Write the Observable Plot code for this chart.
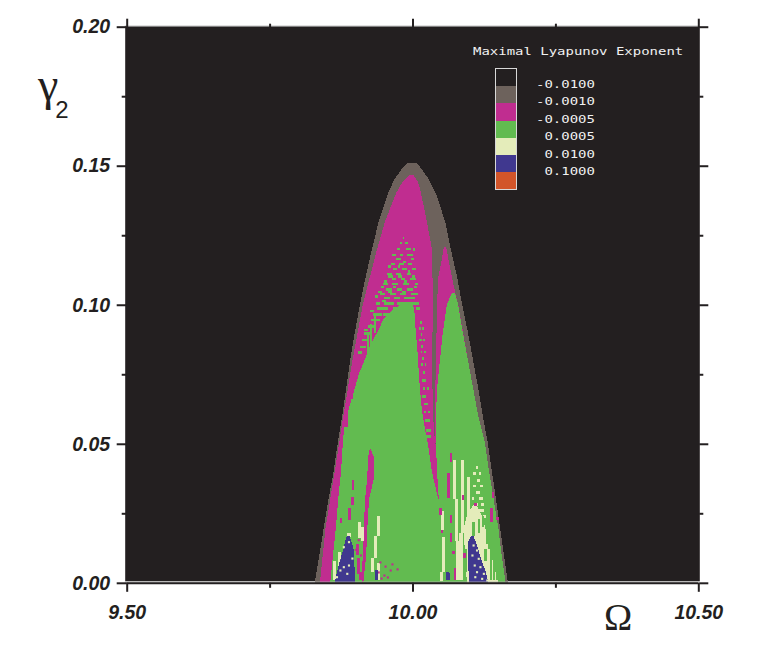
<!DOCTYPE html>
<html>
<head>
<meta charset="utf-8">
<script src="https://cdn.jsdelivr.net/npm/d3@7"></script>
<script src="https://cdn.jsdelivr.net/npm/@observablehq/plot@0.6"></script>
<style>
html,body{margin:0;padding:0;background:#fff;width:763px;height:654px;overflow:hidden}
#wrap{position:relative;width:763px;height:654px}
svg{display:block}
.abs{position:absolute;white-space:pre;line-height:1}
.px{font-family:"DejaVu Sans Mono",monospace;font-size:10.5px;color:#f1f1f1;transform:scaleX(1.33);transform-origin:left center}
</style>
</head>
<body>
<div id="wrap"></div>
<script>
// ---- colours / legend ----
const legendTitle = "Maximal Lyapunov Exponent";
const legendLabels = ["-0.0100","-0.0010","-0.0005"," 0.0005"," 0.0100"," 0.1000"];
const legendColors = ["#231f20","#6d625c","#c02d90","#62bb50","#e4ecba","#40388f","#d2552a"];
const [cBack,cGrey,cMag,cGreen,cPale,cBlue] = legendColors;

// ---- axis ticks ----
const xMajor = [9.5,10,10.5], xMinor = [9.75,10.25];
const yMajor = [0,0.05,0.10,0.15,0.20], yMinor = [0.025,0.075,0.125,0.175];

// ---- outer dome (grey) ----
const domeY = [0,.01,.02,.03,.04,.05,.06,.07,.08,.09,.10,.11,.12,.13,.14,.145,.149,.151];
const domeL = [9.829,9.837,9.845,9.853,9.862,9.869,9.877,9.884,9.891,9.899,9.908,9.918,9.929,9.941,9.957,9.968,9.982,9.992];
const domeR = [10.167,10.160,10.153,10.146,10.139,10.132,10.123,10.115,10.106,10.097,10.087,10.078,10.067,10.057,10.041,10.029,10.015,10.008];

// ---- main magenta dome ----
const magY = [0,.02,.04,.06,.08,.10,.12,.13,.14,.144,.1465];
const magL = [9.838,9.848,9.864,9.879,9.895,9.913,9.938,9.952,9.971,9.982,9.994];
const magR = [10.043,10.043,10.043,10.036,10.034,10.036,10.034,10.025,10.015,10.010,10.002];

// ---- right magenta lobe ----
const lobeMagY = [.03,.06,.08,.10,.105,.11,.115,.1208];
const lobeMagL = [10.043,10.039,10.041,10.043,10.044,10.045,10.050,10.055];
const lobeMagR = [10.139,10.115,10.097,10.080,10.074,10.069,10.064,10.059];

// ---- main green body ----
const grY = [0,.01,.02,.03,.04,.05,.055,.06,.065,.07,.075,.08,.085,.09,.095,.098,.10,.101];
const grL = [9.856,9.861,9.866,9.870,9.875,9.878,9.880,9.885,9.892,9.899,9.906,9.916,9.925,9.938,9.950,9.965,9.978,9.990];
const grR = [10.05,10.05,10.05,10.045,10.034,10.027,10.022,10.018,10.015,10.013,10.011,10.010,10.008,10.006,10.004,10.003,10.001,10.0];

// ---- right green lobe ----
const lobeGrY = [0,.01,.02,.03,.04,.05,.06,.07,.08,.09,.10,.1043];
const lobeGrL = [10.045,10.045,10.045,10.045,10.043,10.041,10.041,10.043,10.048,10.053,10.060,10.069];
const lobeGrR = [10.163,10.156,10.150,10.142,10.134,10.127,10.115,10.106,10.097,10.088,10.080,10.074];

// ---- central magenta spike ----
const spikeY = [0,.01,.02,.03,.038,.045,.048];
const spikeL = [9.911,9.913,9.915,9.917,9.921,9.922,9.925];
const spikeR = [9.914,9.919,9.921,9.924,9.933,9.933,9.927];

// ---- magenta strip between main body and right lobe ----
const stripY = [.03,.04,.05];
const stripL = [10.045,10.034,10.027];
const stripR = [10.046,10.043,10.041];

// ---- pale wedge and blue tongues ----
const wedgeY = [0,.004,.01,.017,.020,.024,.028];
const wedgeL = [10.095,10.094,10.092,10.090,10.090,10.095,10.106];
const wedgeR = [10.150,10.145,10.138,10.130,10.127,10.122,10.112];
const blueAY = [0,.004,.008,.012,.015,.0168];
const blueAL = [9.864,9.868,9.873,9.879,9.882,9.885];
const blueAR = [9.899,9.899,9.898,9.897,9.893,9.890];
const blueBY = [0,.004,.008,.012,.015,.0168];
const blueBL = [10.098,10.098,10.097,10.097,10.098,10.102];
const blueBR = [10.133,10.128,10.121,10.115,10.110,10.107];

// ---- vertical streaks: [x, y1, y2] ----
const magStreaks = [
 [9.895,.0334,.037],[9.894,.028,.031],[9.874,.0215,.0233],[9.889,.0226,.027],
 [10.066,.0435,.0467],[10.062,.0305,.0395],[10.048,.0244,.027],[10.066,.0215,.0244],
 [10.051,.018,.019],[10.067,.0147,.018],[10.071,.0105,.0115],[10.074,.001,.0053],
 [10.090,.009,.0107],[10.087,.0298,.0316],[10.137,.0219,.0269],[10.140,.0305,.0327],
 [10.148,.0225,.0237],[10.109,.0276,.0287],[9.905,.003,.009],[9.903,.010,.014],[9.908,.001,.004],
 [9.884,.056,.062],[9.893,.066,.072],[9.903,.076,.080]
];
const paleStreaks = [
 [10.073,.030,.0442],[10.076,.015,.030],[10.078,.001,.015],
 [10.087,.018,.044],[10.084,.001,.018],[10.097,.018,.038],
 [10.054,.004,.0165],[10.050,.0005,.004],[10.051,.019,.026],
 [9.940,.017,.024],[9.934,.009,.017],[9.929,.004,.009],
 [9.912,.015,.020],[9.888,.0165,.018],[9.871,.001,.011],[9.862,.001,.008],
 [9.940,.001,.007],[9.906,.016,.022]
];
const blueStreaks = [[9.936,.001,.0046],[10.060,.001,.004],[10.062,.001,.0035]];
const greenStreaks = [[9.921,.082,.089],[9.927,.084,.093],[9.934,.090,.097]];
const wedgeGreen = [
 [10.136,.001,.012],[10.142,.001,.007],[10.130,.014,.018],[10.106,.017,.022],[10.115,.018,.023],
 [10.127,.008,.012],[10.133,.012,.016],[10.147,.001,.004],[10.122,.020,.024],[10.093,.004,.012]
];

// ---- dithered rows of green in magenta: [y, x1, x2] ----
const greenRows = [
 [.1241,9.983,9.986],[.1223,9.978,9.982],[.1223,9.987,9.992],[.1202,9.973,9.978],[.1202,9.989,9.997],
 [.1180,9.964,9.971],[.1180,9.978,9.983],[.1180,9.990,10.001],[.1166,9.971,9.980],[.1166,9.997,10.003],
 [.1148,9.962,9.969],[.1148,9.976,9.985],[.1148,9.993,9.999],[.1130,9.966,9.973],[.1130,9.981,9.990],[.1130,9.999,10.006],
 [.1112,9.955,9.964],[.1112,9.971,9.980],[.1112,9.990,9.997],[.1094,9.964,9.971],[.1094,9.980,9.987],[.1094,9.996,10.006],
 [.1076,9.948,9.957],[.1076,9.964,9.975],[.1076,9.984,9.994],[.1076,10.004,10.010],
 [.1057,9.954,9.964],[.1057,9.973,9.982],[.1057,9.990,10.001],
 [.1040,9.943,9.952],[.1040,9.961,9.971],[.1040,9.978,9.989],[.1040,9.997,10.010],
 [.1025,9.951,9.961],[.1025,9.968,9.978],[.1025,9.985,10.004],
 [.1007,9.936,9.943],[.1007,9.950,9.968],[.1007,9.973,10.011],
 [.0989,9.938,9.957],[.0989,9.966,10.0],[.0989,10.006,10.013],
 [.0967,9.931,9.947],[.0967,9.948,9.961],[.0967,9.968,10.004],
 [.0946,9.928,9.944],[.0924,9.922,9.935],[.0899,9.915,9.929],[.0874,9.911,9.920],[.0849,9.908,9.919],
 [.1200,10.001,10.004],[.1156,9.984,9.989],[.1139,9.958,9.962],[.1139,9.975,9.979],[.1121,9.992,9.996],
 [.1103,9.958,9.966],[.1103,9.975,9.981],[.1103,9.999,10.004],[.1085,9.950,9.955],[.1085,9.985,9.991],
 [.1066,9.945,9.950],[.1066,9.966,9.971],[.1066,10.003,10.008],[.1048,9.940,9.946],[.1048,9.958,9.965],[.1048,9.982,9.988],
 [.1032,9.935,9.94],[.1016,9.946,9.953],[.098,9.925,9.932],[.091,9.915,9.922],[.083,9.905,9.912],
 [.0938,10.013,10.017],[.0917,10.011,10.014],[.0917,10.017,10.020],[.0895,10.014,10.017],
 [.0874,10.012,10.016],[.0874,10.019,10.021],[.0852,10.015,10.018],[.0831,10.014,10.017],[.0831,10.020,10.023],
 [.0809,10.017,10.020],[.0787,10.015,10.018],[.0787,10.021,10.024],[.0758,10.018,10.021],[.073,10.016,10.023],
 [.0701,10.019,10.022],[.0701,10.025,10.028],[.0672,10.017,10.024],[.0644,10.020,10.027],
 [.0615,10.020,10.024],[.0615,10.027,10.030],[.0586,10.021,10.031],[.055,10.024,10.033],[.0528,10.024,10.033]
];
// ---- dithered rows of pale chevrons: [y, x1, x2] ----
const paleRows = [
 [.0417,10.111,10.115],[.0395,10.106,10.111],[.0395,10.116,10.120],[.037,10.113,10.118],
 [.0349,10.106,10.111],[.0349,10.118,10.123],[.0327,10.111,10.118],[.0305,10.104,10.107],[.0305,10.116,10.123],
 [.0284,10.108,10.115],[.0284,10.120,10.125],[.0262,10.102,10.111],[.0262,10.116,10.125],[.024,10.108,10.118],[.024,10.123,10.129]
];
// ---- single speckles ----
const speckAX = [9.879,9.888,9.871,9.888,9.879,9.894,9.873,9.885,9.867];
const speckAY = [.0130,.0148,.0089,.0064,.0058,.0089,.0046,.0034,.0022];
const speckBX = [10.106,10.112,10.104,10.115,10.108,10.118,10.112,10.124,10.109,10.121,10.130];
const speckBY = [.0136,.0118,.0100,.0088,.0064,.0058,.0040,.0034,.0022,.0016,.0010];
const magDotX = [9.943,9.952,9.961,9.940,9.950,9.964,9.973,9.945,9.956,9.905,9.900,9.909];
const magDotY = [.0075,.0060,.0046,.0039,.0028,.0068,.0050,.0017,.0021,.0155,.0120,.0100];

const band = (ys, l, r, fill) => Plot.areaX(ys, {y: ys, x1: l, x2: r, fill, shapeRendering: "crispEdges"});
const streaks = (data, stroke, w = 3.2) => Plot.ruleX(data, {x: d => d[0], y1: d => d[1], y2: d => d[2], stroke, strokeWidth: w, shapeRendering: "crispEdges"});
const rows = (data, stroke) => Plot.ruleY(data, {y: d => d[0], x1: d => d[1], x2: d => d[2], stroke, strokeWidth: 2.4, shapeRendering: "crispEdges"});
const dots = (xs, ys, fill) => Plot.dot(xs, {x: xs, y: ys, fill, r: 1.2, symbol: "square"});

const ink = "#231f20";
const font = {fontFamily: "Liberation Sans", fontWeight: "bold", fontStyle: "italic", fontSize: 19.5};

const chart = Plot.plot({
  width: 763, height: 654,
  marginLeft: 126.7, marginRight: 64.7, marginTop: 26.7, marginBottom: 71.2,
  x: {domain: [9.5, 10.5]},
  y: {domain: [0, 0.2]},
  marks: [
    Plot.frame({fill: cBack, stroke: null, insetLeft: -2, insetRight: -1, insetTop: -1, insetBottom: 2}),
    Plot.ruleY([0.2], {stroke: "#9a9a9a", strokeWidth: 1, dy: -1, insetLeft: -2, insetRight: -1}),
    band(domeY, domeL, domeR, cGrey),
    band(magY, magL, magR, cMag),
    band(lobeMagY, lobeMagL, lobeMagR, cMag),
    band(grY, grL, grR, cGreen),
    band(lobeGrY, lobeGrL, lobeGrR, cGreen),
    rows(greenRows, cGreen),
    streaks(greenStreaks, cGreen, 2.4),
    band(stripY, stripL, stripR, cMag),
    band(spikeY, spikeL, spikeR, cMag),
    band(wedgeY, wedgeL, wedgeR, cPale),
    streaks(paleStreaks, cPale),
    rows(paleRows, cPale),
    streaks(wedgeGreen, cGreen, 2.4),
    streaks(magStreaks, cMag, 2.4),
    dots(magDotX, magDotY, cMag),
    band(blueAY, blueAL, blueAR, cBlue),
    band(blueBY, blueBL, blueBR, cBlue),
    streaks(blueStreaks, cBlue, 3),
    dots(speckAX, speckAY, cPale),
    dots(speckBX, speckBY, cPale),
    Plot.ruleY([0], {stroke: "#b5b5b5", strokeWidth: 1, dy: -1.2, insetLeft: -2, insetRight: -1}),
    Plot.ruleY([0], {stroke: ink, strokeWidth: 2}),
    Plot.axisY({anchor: "left", ticks: yMajor, tickSize: 10, tickPadding: 7, label: null, tickFormat: d3.format(".2f"), stroke: ink, strokeWidth: 2, fill: ink, ...font}),
    Plot.axisY({anchor: "left", ticks: yMinor, tickSize: 5, label: null, fill: "none", stroke: ink, strokeWidth: 2}),
    Plot.axisY({anchor: "right", ticks: yMajor, tickSize: 9, label: null, fill: "none", stroke: ink, strokeWidth: 2}),
    Plot.axisY({anchor: "right", ticks: yMinor, tickSize: 4, label: null, fill: "none", stroke: ink, strokeWidth: 2}),
    Plot.axisX({anchor: "bottom", ticks: xMajor, tickSize: 9, tickPadding: 13, label: null, tickFormat: d3.format(".2f"), stroke: ink, strokeWidth: 2, fill: ink, ...font}),
    Plot.axisX({anchor: "bottom", ticks: xMinor, tickSize: 5, label: null, fill: "none", stroke: ink, strokeWidth: 2}),
    Plot.axisX({anchor: "top", ticks: xMajor, tickSize: 9, label: null, fill: "none", stroke: ink, strokeWidth: 2}),
    Plot.axisX({anchor: "top", ticks: xMinor, tickSize: 4, label: null, fill: "none", stroke: ink, strokeWidth: 2})
  ]
});

const wrap = document.getElementById("wrap");
wrap.appendChild(chart);

function addText(txt, cls, css) {
  const el = document.createElement("div");
  el.className = "abs " + cls;
  el.textContent = txt;
  Object.assign(el.style, css);
  wrap.appendChild(el);
  return el;
}
addText(legendTitle, "px", {left: "473px", top: "46px"});
const box = document.createElement("div");
box.className = "abs";
Object.assign(box.style, {left: "494.5px", top: "68px", width: "20px", border: "1.3px solid #d8d8d8"});
legendColors.forEach(c => {
  const s = document.createElement("div");
  Object.assign(s.style, {height: "17.2px", background: c});
  box.appendChild(s);
});
wrap.appendChild(box);
legendLabels.forEach((t, i) => addText(t, "px", {left: "535.5px", top: (79 + i * 17.4) + "px"}));

const gamma = addText("γ", "", {left: "38px", top: "58px", font: "46px 'Liberation Serif'", color: ink});
const sub = document.createElement("span");
sub.textContent = "2";
Object.assign(sub.style, {font: "24px 'Liberation Sans'", position: "relative", left: "-3px", top: "18px"});
gamma.appendChild(sub);
addText("Ω", "", {left: "604px", top: "595px", font: "38px 'Liberation Serif'", color: ink});
</script>
</body>
</html>
